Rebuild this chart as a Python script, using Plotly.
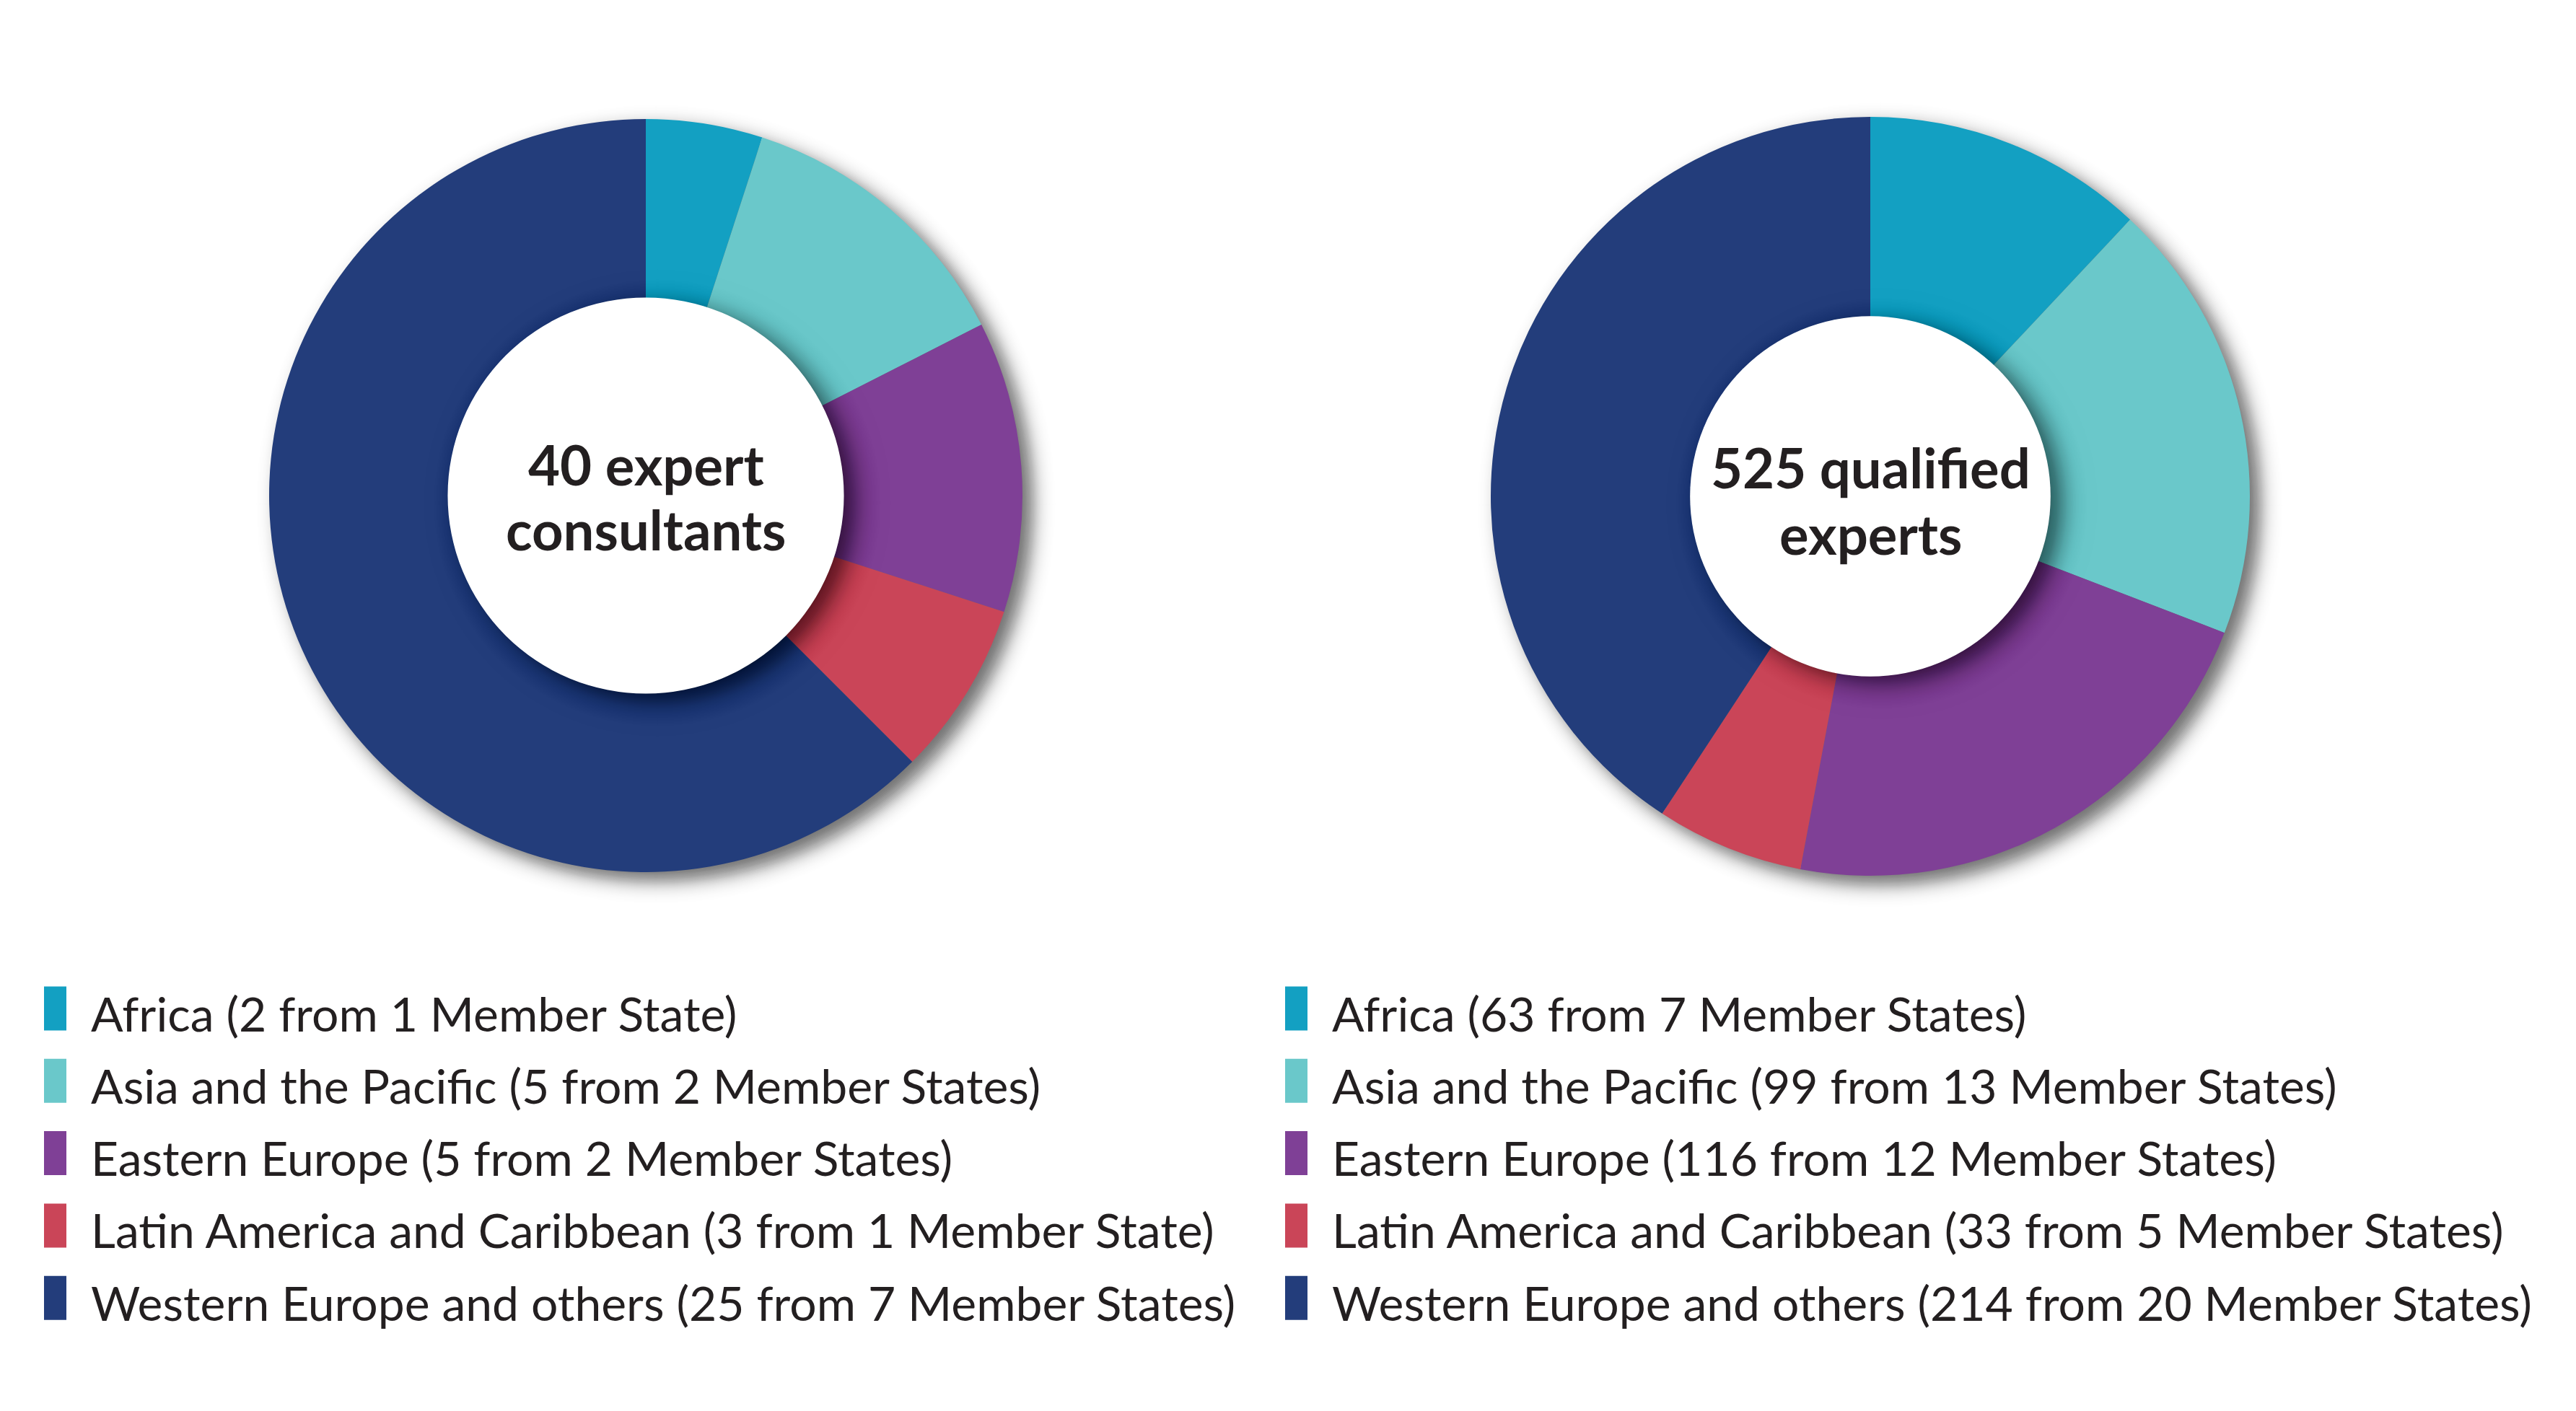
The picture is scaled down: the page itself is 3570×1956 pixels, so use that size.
import numpy as np
import plotly.graph_objects as go

# ---------------- data ----------------
regions = ["Africa", "Asia and the Pacific", "Eastern Europe",
           "Latin America and Caribbean", "Western Europe and others"]
colors = ["#13A0C2", "#6AC8CA", "#7F4096", "#CA4558", "#233D7B"]

consultants = [2, 5, 5, 3, 25]
consultant_states = ["1 Member State", "2 Member States", "2 Member States",
                     "1 Member State", "7 Member States"]
consultant_title = ["40 expert", "consultants"]

experts = [63, 99, 116, 33, 214]
expert_states = ["7 Member States", "13 Member States", "12 Member States",
                 "5 Member States", "20 Member States"]
expert_title = ["525 qualified", "experts"]

# ---------------- layout constants (pixels) ----------------
W, H = 3570, 1956
FONT = "Lato"
TEXT = "#231F20"

pies = [
    dict(values=consultants, states=consultant_states, title=consultant_title,
         cx=895, cy=687, r=522, hole=0.525, leg_x=61, title_y=[643, 733]),
    dict(values=experts, states=expert_states, title=expert_title,
         cx=2592, cy=688, r=526, hole=0.474, leg_x=1781, title_y=[647, 740]),
]
LEG_Y0, LEG_DY = 1398, 100.3
MK_W, MK_H, TXT_GAP = 31, 61, 32


def px(x):
    return x / W


def py(y):
    return 1 - y / H


def circle(cx, cy, rad, fill, layer):
    return dict(type="circle", xref="paper", yref="paper",
                x0=px(cx - rad), x1=px(cx + rad), y0=py(cy + rad), y1=py(cy - rad),
                fillcolor=fill, line=dict(width=0), layer=layer)


def soft_shadow(cx, cy, r0, s, dmax, rmin, rmax, step, layer):
    radii = np.arange(rmin, rmax + step, step, dtype=float)
    D = lambda d: dmax / (1 + np.exp((d - r0) / s))
    T = [1 - D(rr - step / 2) for rr in radii] + [1.0]
    out = []
    for i, rr in enumerate(radii):
        a = 1 - T[i] / T[i + 1]
        if a <= 0.001:
            continue
        out.append(circle(cx, cy, rr, f"rgba(0,0,0,{a:.4f})", layer))
    return out


fig = go.Figure()
shapes, annotations = [], []

for p in pies:
    cx, cy, r = p["cx"], p["cy"], p["r"]
    fig.add_trace(go.Pie(
        labels=regions, values=p["values"], hole=p["hole"],
        marker=dict(colors=colors, line=dict(width=0)),
        sort=False, direction="clockwise", rotation=0,
        textinfo="none", showlegend=False, hoverinfo="label+value",
        domain=dict(x=[px(cx - r), px(cx + r)], y=[py(cy + r), py(cy - r)]),
    ))
    # outer drop shadow (below the donut)
    shapes += soft_shadow(cx + 14, cy + 12, r, 8, 0.55, r - 40, r + 50, 2, "below")
    # shadow cast by the hole onto the ring
    rh = r * p["hole"]
    shapes += soft_shadow(cx + 16, cy + 10, rh, 9, 0.5, rh - 40, rh + 50, 2, "above")
    shapes.append(circle(cx, cy, rh + 0.5, "white", "above"))
    # centre label
    for line, ty in zip(p["title"], p["title_y"]):
        annotations.append(dict(
            text=f"<b>{line}</b>", x=px(cx), y=py(ty),
            xref="paper", yref="paper", xanchor="center", yanchor="middle",
            showarrow=False, font=dict(family=FONT, size=76, color=TEXT)))
    # legend
    for i, (lab, v, st) in enumerate(zip(regions, p["values"], p["states"])):
        yc = LEG_Y0 + i * LEG_DY
        shapes.append(dict(type="rect", xref="paper", yref="paper",
                           x0=px(p["leg_x"]), x1=px(p["leg_x"] + MK_W),
                           y0=py(yc + MK_H / 2), y1=py(yc - MK_H / 2),
                           fillcolor=colors[i], line=dict(width=0), layer="above"))
        annotations.append(dict(
            text=f"{lab} ({v} from {st})",
            x=px(p["leg_x"] + MK_W + TXT_GAP), y=py(yc + 6),
            xref="paper", yref="paper", xanchor="left", yanchor="middle",
            showarrow=False, font=dict(family=FONT, size=66, color=TEXT)))

fig.update_layout(
    width=W, height=H, margin=dict(l=0, r=0, t=0, b=0),
    paper_bgcolor="white", plot_bgcolor="white",
    shapes=shapes, annotations=annotations,
)

fig.write_html("out.html")
